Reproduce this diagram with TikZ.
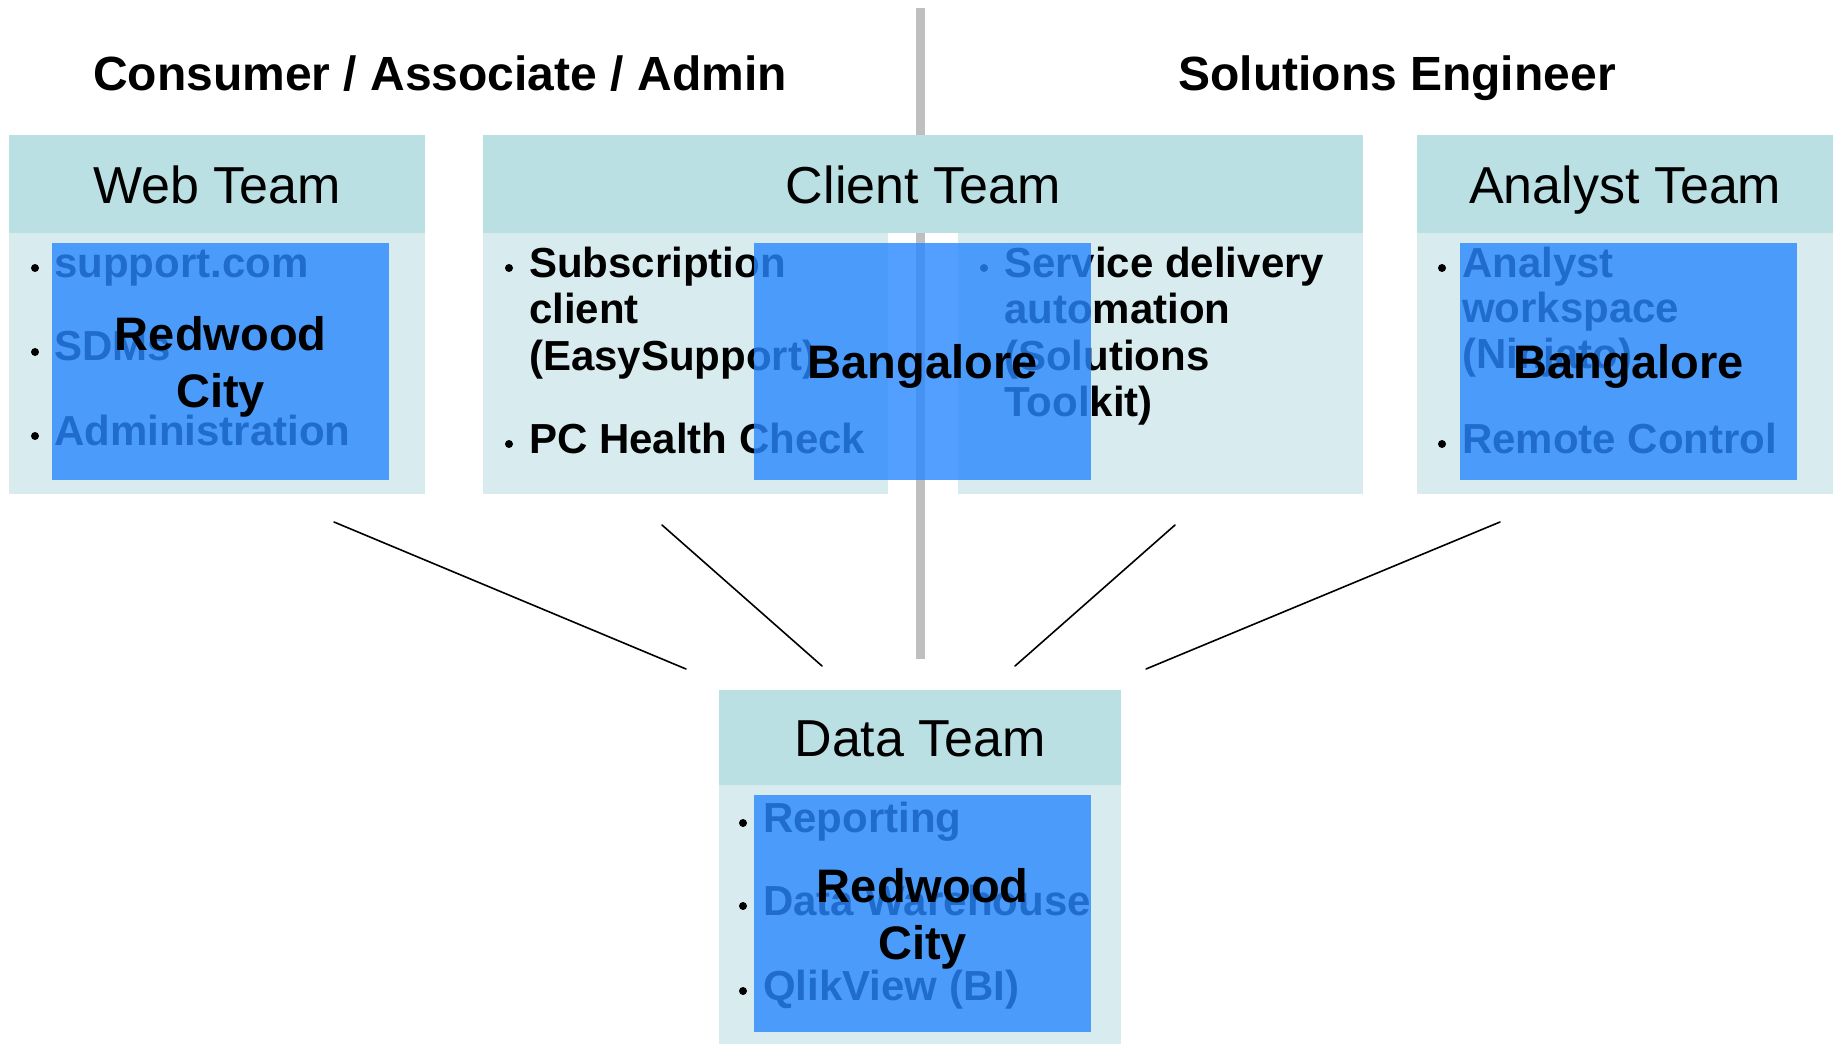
\documentclass[tikz,border=0pt]{standalone}
\usepackage{fontspec}
\setmainfont{Liberation Sans}
\definecolor{hdrc}{RGB}{186,224,227}
\definecolor{bodyc}{RGB}{216,236,239}
\definecolor{locc}{RGB}{40,135,255}
\definecolor{sepc}{RGB}{191,191,191}
\begin{document}
\begin{tikzpicture}[x=1pt,y=-1pt,
  hdr/.style={fill=hdrc, inner sep=0, anchor=north west, text height=38, text depth=0, font=\fontsize{52}{60}\selectfont},
  bodyp/.style={fill=bodyc, inner sep=0, anchor=north west},
  loc/.style={fill=locc, fill opacity=0.8, text opacity=1, inner sep=0, anchor=north west, minimum width=337, minimum height=237, align=center, text depth=0, font=\bfseries\fontsize{47}{57}\selectfont},
  itm/.style={anchor=base west, inner sep=0, font=\bfseries\fontsize{42}{46}\selectfont},
  bul/.style={circle, fill=black, inner sep=0, minimum size=8},
  conn/.style={line width=1.6, line cap=round},
  heading/.style={anchor=base, inner sep=0, font=\bfseries\fontsize{48}{56}\selectfont}
]
\useasboundingbox (0,0) rectangle (1835,1044);
\fill[white] (0,0) rectangle (1835,1044);

% separator
\coordinate (g1) at (920.5,8);
\coordinate (g2) at (920.5,659);
\draw[sepc, line width=9] (g1) -- (g2);

% headings
\node[heading] (h1) at (440,90) {Consumer / Associate / Admin};
\node[heading] (h2) at (1397,90) {Solutions Engineer};

% Web Team
\node[bodyp, minimum width=416, minimum height=261] (webb) at (9,233) {};
\node[hdr, minimum width=416, minimum height=98] (webh) at (9,135) {Web Team};
\node[bul] (wb1) at (35,268) {};
\node[bul] (wb2) at (35,352) {};
\node[bul] (wb3) at (35,436) {};
\node[itm] (wt1) at (54,277) {support.com};
\node[itm] (wt2) at (54,360) {SDMs};
\node[itm] (wt3) at (54,445) {Administration};
\node[loc] (webl) at (52,243) {Redwood\\City};

% Client Team
\node[bodyp, minimum width=405, minimum height=261] (clb1) at (483,233) {};
\node[bodyp, minimum width=405, minimum height=261] (clb2) at (958,233) {};
\node[hdr, minimum width=880, minimum height=98] (clh) at (483,135) {Client Team};
\node[bul] (cb1) at (509,268) {};
\node[bul] (cb2) at (509,444) {};
\node[itm] (ct1) at (529,277) {Subscription};
\node[itm] (ct2) at (529,323) {client};
\node[itm] (ct3) at (529,370) {(EasySupport)};
\node[itm] (ct4) at (529,453) {PC Health Check};
\node[bul] (cb3) at (984,268) {};
\node[itm] (ct5) at (1004,277) {Service delivery};
\node[itm] (ct6) at (1004,323) {automation};
\node[itm] (ct7) at (1004,370) {(Solutions};
\node[itm] (ct8) at (1004,416) {Toolkit)};
\node[loc] (cll) at (754,243) {Bangalore};

% Analyst Team
\node[bodyp, minimum width=416, minimum height=261] (anb) at (1417,233) {};
\node[hdr, minimum width=416, minimum height=98] (anh) at (1417,135) {Analyst Team};
\node[bul] (ab1) at (1442,268) {};
\node[bul] (ab2) at (1442,444) {};
\node[itm] (at1) at (1462,277) {Analyst};
\node[itm] (at2) at (1462,322) {workspace};
\node[itm] (at3) at (1462,368) {(Ninjato)};
\node[itm] (at4) at (1462,453) {Remote Control};
\node[loc] (anl) at (1460,243) {Bangalore};

% Data Team
\node[bodyp, minimum width=402, minimum height=259] (dab) at (719,785) {};
\node[hdr, minimum width=402, minimum height=95] (dah) at (719,690) {Data Team};
\node[bul] (db1) at (743,823) {};
\node[bul] (db2) at (743,906) {};
\node[bul] (db3) at (743,991) {};
\node[itm] (dt1) at (763,832) {Reporting};
\node[itm] (dt2) at (763,915) {Data Warehouse};
\node[itm] (dt3) at (763,1000) {QlikView (BI)};
\node[loc] (dal) at (754,795) {Redwood\\City};

% connectors
\coordinate (c1a) at (334,522); \coordinate (c1b) at (686,669);
\coordinate (c2a) at (662,525); \coordinate (c2b) at (822,666);
\coordinate (c3a) at (1175,525); \coordinate (c3b) at (1015,666);
\coordinate (c4a) at (1500,522); \coordinate (c4b) at (1146,669);
\draw[conn] (c1a) -- (c1b);
\draw[conn] (c2a) -- (c2b);
\draw[conn] (c3a) -- (c3b);
\draw[conn] (c4a) -- (c4b);
\end{tikzpicture}
\end{document}
